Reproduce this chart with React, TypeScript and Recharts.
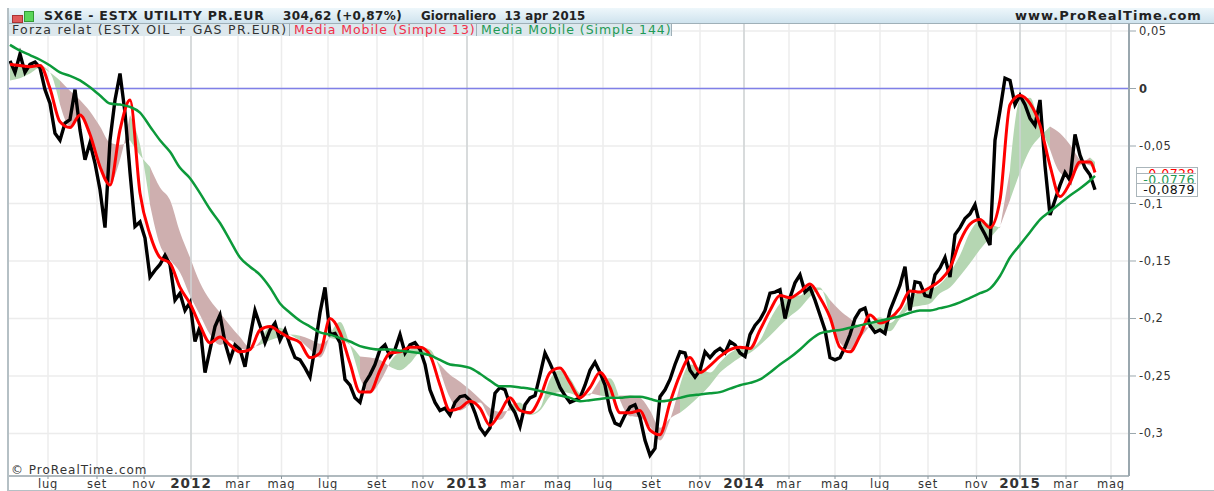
import { ComposedChart, Line, Area, XAxis, YAxis, CartesianGrid, ReferenceLine } from 'recharts';

const FONT = '"DejaVu Sans", sans-serif';

// one sample per week of the relative strength line
const forzaRelat = [
  0.024, 0.014, 0.03, 0.014, 0.021, 0.023, 0.018, -0.001, -0.013, -0.039, -0.045, -0.03, -0.027, -0.001, -0.036, -0.062,
  -0.047, -0.065, -0.088, -0.121, -0.045, -0.01, 0.013, -0.021, -0.073, -0.12, -0.116, -0.13, -0.164, -0.158, -0.153, -0.145,
  -0.153, -0.184, -0.178, -0.193, -0.186, -0.22, -0.207, -0.247, -0.227, -0.207, -0.197, -0.221, -0.236, -0.223, -0.227, -0.242,
  -0.216, -0.193, -0.206, -0.221, -0.21, -0.204, -0.219, -0.21, -0.223, -0.234, -0.236, -0.243, -0.251, -0.225, -0.195, -0.173,
  -0.214, -0.213, -0.221, -0.253, -0.258, -0.269, -0.273, -0.256, -0.249, -0.24, -0.227, -0.223, -0.233, -0.227, -0.214, -0.23,
  -0.223, -0.221, -0.227, -0.24, -0.262, -0.273, -0.28, -0.278, -0.284, -0.273, -0.268, -0.267, -0.271, -0.282, -0.295, -0.301,
  -0.295, -0.265, -0.26, -0.262, -0.275, -0.282, -0.294, -0.275, -0.269, -0.267, -0.249, -0.23, -0.239, -0.249, -0.26, -0.267,
  -0.273, -0.271, -0.269, -0.258, -0.245, -0.238, -0.247, -0.258, -0.28, -0.291, -0.293, -0.284, -0.277, -0.275, -0.286, -0.306,
  -0.319, -0.313, -0.268, -0.262, -0.253, -0.24, -0.229, -0.23, -0.245, -0.251, -0.245, -0.229, -0.234, -0.229, -0.226, -0.23,
  -0.22, -0.223, -0.23, -0.233, -0.214, -0.206, -0.201, -0.193, -0.178, -0.177, -0.175, -0.2, -0.182, -0.169, -0.162, -0.177,
  -0.173, -0.184, -0.197, -0.21, -0.234, -0.236, -0.234, -0.225, -0.214, -0.2, -0.193, -0.191, -0.206, -0.212, -0.21, -0.213,
  -0.193, -0.182, -0.171, -0.155, -0.193, -0.168, -0.169, -0.18, -0.181, -0.162, -0.156, -0.147, -0.164, -0.127, -0.121, -0.113,
  -0.109, -0.101, -0.119, -0.127, -0.136, -0.045, -0.019, 0.009, 0.007, -0.014, -0.006, -0.014, -0.026, -0.032, -0.01, -0.067,
  -0.11, -0.097, -0.084, -0.073, -0.08, -0.04, -0.058, -0.069, -0.075, -0.088,
];

// the smoother lines are read every second week, plus the last session
const mediaMobile13 = [
  0.021, 0.02, 0.019, 0.02, 0, -0.029, -0.034, -0.023, -0.04, -0.068, -0.084, -0.036, -0.01, -0.091, -0.127, -0.147, -0.152, -0.173,
  -0.187, -0.206, -0.221, -0.216, -0.223, -0.229, -0.227, -0.21, -0.207, -0.212, -0.217, -0.221, -0.234, -0.23, -0.2, -0.212, -0.239, -0.264,
  -0.264, -0.245, -0.23, -0.229, -0.225, -0.225, -0.232, -0.258, -0.28, -0.278, -0.272, -0.278, -0.293, -0.282, -0.269, -0.28, -0.282, -0.269,
  -0.247, -0.243, -0.256, -0.269, -0.26, -0.247, -0.26, -0.282, -0.282, -0.28, -0.297, -0.301, -0.273, -0.249, -0.234, -0.247, -0.241, -0.233,
  -0.227, -0.225, -0.226, -0.21, -0.193, -0.18, -0.182, -0.177, -0.17, -0.182, -0.199, -0.225, -0.229, -0.215, -0.197, -0.204, -0.2, -0.191,
  -0.176, -0.177, -0.173, -0.167, -0.156, -0.133, -0.118, -0.114, -0.121, -0.097, -0.014, -0.006, -0.013, -0.032, -0.067, -0.094, -0.082, -0.064,
  -0.064, -0.073,
];

const mediaMobile144 = [
  0.038, 0.033, 0.029, 0.025, 0.02, 0.014, 0.011, 0.007, 0.001, -0.006, -0.013, -0.014, -0.016, -0.021, -0.033, -0.045, -0.055, -0.069,
  -0.078, -0.091, -0.105, -0.117, -0.132, -0.147, -0.155, -0.162, -0.173, -0.187, -0.195, -0.202, -0.207, -0.212, -0.214, -0.217, -0.22, -0.224,
  -0.226, -0.227, -0.227, -0.228, -0.229, -0.23, -0.232, -0.236, -0.24, -0.241, -0.243, -0.248, -0.254, -0.259, -0.259, -0.26, -0.261, -0.263,
  -0.265, -0.267, -0.269, -0.272, -0.271, -0.27, -0.269, -0.269, -0.268, -0.268, -0.27, -0.272, -0.271, -0.269, -0.267, -0.266, -0.265, -0.264,
  -0.261, -0.258, -0.256, -0.253, -0.247, -0.24, -0.234, -0.227, -0.219, -0.213, -0.211, -0.21, -0.208, -0.206, -0.204, -0.202, -0.2, -0.198,
  -0.195, -0.193, -0.193, -0.191, -0.189, -0.186, -0.182, -0.178, -0.174, -0.163, -0.147, -0.136, -0.125, -0.114, -0.107, -0.1, -0.093, -0.087,
  -0.08, -0.076,
];

// the two edges of the shaded cloud: green where the fast edge is on top, brown otherwise
const cloudFast = [
  0.02, 0.02, 0.02, 0.02, 0.014, -0.014, -0.033, -0.025, -0.04, -0.066, -0.082, -0.062, -0.023, -0.049, -0.101, -0.136, -0.149, -0.16,
  -0.18, -0.197, -0.214, -0.223, -0.219, -0.226, -0.227, -0.22, -0.208, -0.208, -0.214, -0.219, -0.227, -0.234, -0.214, -0.203, -0.223, -0.252,
  -0.265, -0.255, -0.238, -0.229, -0.227, -0.225, -0.227, -0.245, -0.269, -0.28, -0.275, -0.273, -0.286, -0.288, -0.275, -0.273, -0.283, -0.278,
  -0.253, -0.245, -0.252, -0.265, -0.267, -0.253, -0.252, -0.271, -0.285, -0.286, -0.294, -0.306, -0.288, -0.258, -0.24, -0.243, -0.247, -0.238,
  -0.23, -0.226, -0.226, -0.219, -0.201, -0.187, -0.18, -0.18, -0.173, -0.173, -0.199, -0.221, -0.227, -0.217, -0.206, -0.199, -0.204, -0.195,
  -0.182, -0.177, -0.175, -0.17, -0.16, -0.145, -0.125, -0.115, -0.118, -0.121, -0.071, -0.01, -0.008, -0.032, -0.053, -0.073, -0.078, -0.067,
  -0.06, -0.064,
];

const cloudSlow = [
  0.007, 0.009, 0.013, 0.018, 0.014, 0.007, -0.002, -0.01, -0.02, -0.033, -0.047, -0.049, -0.045, -0.058, -0.068, -0.086, -0.097, -0.125,
  -0.147, -0.169, -0.184, -0.195, -0.206, -0.216, -0.225, -0.223, -0.219, -0.216, -0.214, -0.215, -0.218, -0.222, -0.217, -0.219, -0.223, -0.233,
  -0.234, -0.236, -0.242, -0.245, -0.239, -0.23, -0.232, -0.24, -0.249, -0.255, -0.262, -0.27, -0.278, -0.281, -0.28, -0.281, -0.284, -0.28,
  -0.268, -0.264, -0.265, -0.268, -0.265, -0.267, -0.268, -0.267, -0.267, -0.269, -0.28, -0.295, -0.287, -0.282, -0.275, -0.267, -0.258, -0.247,
  -0.24, -0.234, -0.23, -0.223, -0.215, -0.206, -0.198, -0.191, -0.181, -0.175, -0.184, -0.193, -0.2, -0.207, -0.208, -0.21, -0.211, -0.2,
  -0.191, -0.189, -0.187, -0.178, -0.173, -0.163, -0.152, -0.14, -0.13, -0.12, -0.097, -0.073, -0.053, -0.042, -0.033, -0.039, -0.049, -0.062,
  -0.067, -0.07,
];

const monthLabels = ['lug', 'set', 'nov', '2012', 'mar', 'mag', 'lug', 'set', 'nov', '2013', 'mar', 'mag', 'lug', 'set', 'nov', '2014', 'mar', 'mag', 'lug', 'set', 'nov', '2015', 'mar', 'mag'];
const monthWeeks = [7.6, 17.4, 26.8, 36.2, 45.6, 54.3, 63.6, 73.4, 82.6, 91.4, 100.6, 109.6, 118.6, 128.3, 138, 146.8, 155.8, 165, 174, 183.6, 193.3, 202, 211.2, 220.2];
const yTicks = [0.05, 0, -0.05, -0.1, -0.15, -0.2, -0.25, -0.3];

const lastWeek = forzaRelat.length - 1;

const rows = forzaRelat.map((value, week) => {
  const k = week === lastWeek ? mediaMobile13.length - 1 : week % 2 === 0 ? week / 2 : null;
  return {
    week,
    k,
    forza: value,
    ma13: k === null ? null : mediaMobile13[k],
    ma144: k === null ? null : mediaMobile144[k],
  };
});

// runs of equal colour, each one reaching to the first sample of the next run
const cloudRuns: { from: number; to: number; up: boolean }[] = [];
cloudFast.forEach((fast, k) => {
  const up = fast >= cloudSlow[k];
  const run = cloudRuns[cloudRuns.length - 1];
  if (run && run.up === up) run.to = k;
  else {
    if (run) run.to = k;
    cloudRuns.push({ from: k, to: k, up });
  }
});

const MonthTick = ({ x, y, payload }: any) => {
  const label = monthLabels[monthWeeks.indexOf(payload.value)];
  const isYear = /^\d+$/.test(label);
  return (
    <g>
      <line x1={x} x2={x} y1={y} y2={y + 3} stroke="#8a979e" />
      <text x={x} y={y + 12} textAnchor="middle" fontFamily={FONT} fontSize={isYear ? 13.5 : 11.5} letterSpacing={isYear ? 1 : 0.8} fontWeight={isYear ? 700 : 400} fill="#333">
        {label}
      </text>
    </g>
  );
};

const ValueTick = ({ x, y, payload }: any) => (
  <g>
    <line x1={x} x2={x + 7} y1={y} y2={y} stroke="#9aa7ae" />
    <text x={x + 10} y={y + 4} fontFamily={FONT} fontSize={11.5} letterSpacing={0.5} fontWeight={payload.value === 0 ? 700 : 400} fill="#333">
      {payload.value === 0 ? '0' : String(payload.value).replace('.', ',')}
    </text>
  </g>
);

const legendCell = (color: string, left: number, width: number, spacing: number) => ({
  position: 'absolute' as const,
  left,
  width,
  top: 0,
  height: 12,
  lineHeight: '12px',
  fontSize: 12.5,
  letterSpacing: spacing,
  color,
  background: '#dde8ed',
  borderRight: '1px solid #9fb0b8',
  whiteSpace: 'nowrap' as const,
  paddingLeft: 4,
  boxSizing: 'border-box' as const,
});

const headerText = (left: number, fontSize: number, spacing: number) => ({
  position: 'absolute' as const,
  left,
  top: 1,
  fontSize,
  letterSpacing: spacing,
  lineHeight: '14px',
  fontWeight: 700,
  color: '#222',
  whiteSpace: 'nowrap' as const,
});

const tagRow = (top: number, height: number, color: string) => ({
  position: 'absolute' as const,
  left: 0,
  top,
  width: 59,
  height,
  overflow: 'hidden',
  color,
  fontSize: 12.5,
  letterSpacing: 0.5,
  lineHeight: '11px',
  textAlign: 'right' as const,
  paddingRight: 1,
  boxSizing: 'border-box' as const,
  background: '#fff',
  borderBottom: '1px solid #aab5ba',
});

export default function App() {
  return (
    <div style={{ position: 'absolute', left: 0, top: 0, width: 1214, height: 491, overflow: 'hidden', background: '#fff', fontFamily: FONT }}>
      <ComposedChart width={1214} height={491} data={rows} margin={{ top: 23, right: 0, bottom: 0, left: 8 }}>
        <CartesianGrid stroke="#ececec" strokeWidth={1.5} />
        <XAxis
          dataKey="week"
          type="number"
          domain={[-0.4, 223.8]}
          ticks={monthWeeks}
          interval={0}
          height={15}
          tick={<MonthTick />}
          tickLine={false}
          tickSize={0}
          tickMargin={0}
          axisLine={{ stroke: '#9aa7ae', strokeWidth: 1.5 }}
          allowDataOverflow
        />
        <YAxis
          orientation="right"
          type="number"
          width={85}
          domain={[-0.33696, 0.05696]}
          ticks={yTicks}
          interval={0}
          tick={<ValueTick />}
          tickLine={false}
          tickSize={0}
          tickMargin={0}
          axisLine={{ stroke: '#9aa7ae', strokeWidth: 2 }}
          allowDataOverflow
        />
        {[36.2, 91.4, 146.8, 202].map((w) => (
          <ReferenceLine key={w} x={w} stroke="#cfd3d5" strokeWidth={1.5} />
        ))}
        {cloudRuns.map((run) => (
          <Area
            key={run.from}
            type="monotone"
            dataKey={(row: any) => (row.k !== null && row.k >= run.from && row.k <= run.to ? [cloudSlow[row.k], cloudFast[row.k]] : null)}
            stroke="none"
            fill={run.up ? '#b5d6b2' : '#ceafaf'}
            fillOpacity={1}
            connectNulls
            dot={false}
            activeDot={false}
            isAnimationActive={false}
          />
        ))}
        <ReferenceLine y={0} stroke="#8080e8" strokeWidth={1.5} />
        <Line type="linear" dataKey="forza" stroke="#000" strokeWidth={3.4} dot={false} activeDot={false} isAnimationActive={false} />
        <Line type="monotone" dataKey="ma13" stroke="#ff0000" strokeWidth={3} connectNulls dot={false} activeDot={false} isAnimationActive={false} />
        <Line type="monotone" dataKey="ma144" stroke="#0c9a3a" strokeWidth={2.5} connectNulls dot={false} activeDot={false} isAnimationActive={false} />
      </ComposedChart>

      <div style={{ position: 'absolute', left: 8, top: 8, width: 1206, height: 15, background: 'linear-gradient(#eef7fb, #cfe3ee)', borderBottom: '1px solid #9fb0b8' }}>
        <span style={{ position: 'absolute', left: 4, top: 7, width: 9, height: 6, background: '#e05a5a', border: '1px solid #a33' }} />
        <span style={{ position: 'absolute', left: 16, top: 3, width: 8, height: 9, background: '#5ad65a', border: '1px solid #393' }} />
        <span style={headerText(36, 12.5, 0.8)}>SX6E - ESTX UTILITY PR.EUR</span>
        <span style={headerText(275, 12, 0.4)}>304,62 (+0,87%)</span>
        <span style={headerText(413, 11.8, 0.1)}>Giornaliero&nbsp; 13 apr 2015</span>
        <span style={headerText(1007, 13, 1)}>www.ProRealTime.com</span>
      </div>
      <div style={{ position: 'absolute', left: 8, top: 24, width: 664, height: 12 }}>
        <div style={legendCell('#333', 0, 282, 1.28)}>Forza relat (ESTX OIL + GAS PR.EUR)</div>
        <div style={legendCell('#f0304a', 282, 187, 0.95)}>Media Mobile (Simple 13)</div>
        <div style={legendCell('#1f9a55', 469, 195, 0.95)}>Media Mobile (Simple 144)</div>
      </div>

      <div style={{ position: 'absolute', left: 1136, top: 167, width: 60, height: 28, border: '1px solid #aab5ba', background: '#fff', overflow: 'hidden' }}>
        <div style={tagRow(0, 6, '#f00')}>-0,0728</div>
        <div style={tagRow(6, 10, '#1f9a55')}>-0,0776</div>
        <div style={{ ...tagRow(16, 11, '#111'), borderBottom: 'none' }}>-0,0879</div>
      </div>

      <div style={{ position: 'absolute', left: 11, top: 464, fontSize: 12, letterSpacing: 1, lineHeight: '13px', color: '#333' }}>© ProRealTime.com</div>
      <div style={{ position: 'absolute', left: 8, top: 490, width: 1206, height: 1, background: '#b5c0c5' }} />
      <div style={{ position: 'absolute', left: 7, top: 8, width: 1.5, height: 483, background: '#b5c0c5' }} />
    </div>
  );
}
